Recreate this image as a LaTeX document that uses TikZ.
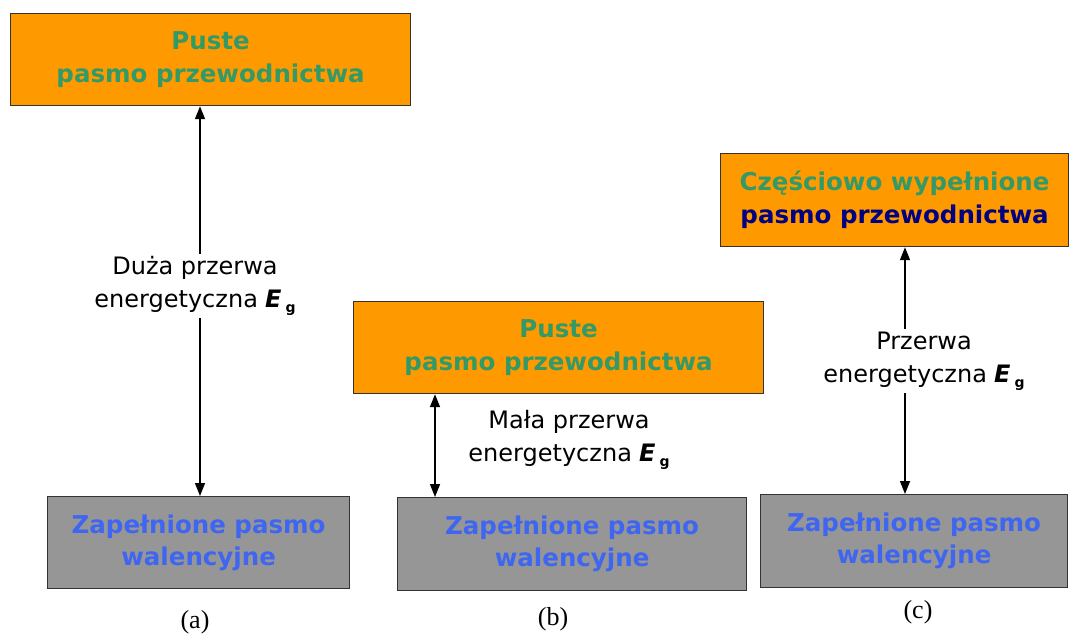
\documentclass[tikz,border=0pt]{standalone}
\usepackage{fontspec}
\setmainfont{DejaVu Sans}
\newfontfamily\capfont{Liberation Serif}
\usetikzlibrary{arrows.meta}
\definecolor{bandorange}{HTML}{FF9900}
\definecolor{bandgray}{HTML}{969696}
\definecolor{bandgreen}{HTML}{339966}
\definecolor{bandblue}{HTML}{3F66F0}
\definecolor{bandnavy}{HTML}{000080}
\definecolor{edgegray}{HTML}{333333}
\newcommand\Eg{\hspace{0.3em}\textbf{\textit{E}}\,\raisebox{-0.35ex}{\fontsize{14}{14}\selectfont\bfseries g}}
\tikzset{
  cband/.style={draw=edgegray, line width=1.2pt, fill=bandorange, anchor=north west,
    inner sep=0pt, align=center, text=bandgreen,
    font=\fontsize{24.5}{33}\selectfont\bfseries},
  vband/.style={draw=edgegray, line width=1.2pt, fill=bandgray, anchor=north west,
    inner sep=0pt, align=center, text=bandblue,
    font=\fontsize{24.5}{32}\selectfont\bfseries},
  gaplabel/.style={fill=white, inner sep=3pt, align=center,
    font=\fontsize{24}{33}\selectfont},
  caplabel/.style={font=\capfont\fontsize{26}{26}\selectfont},
  gaparrow/.style={line width=1.4pt, {Triangle[length=13pt,width=10pt]}-{Triangle[length=13pt,width=10pt]}}
}
\begin{document}
\begin{tikzpicture}[x=1pt,y=-1pt]
\useasboundingbox (0,0) rectangle (1069,633);
% (a)
\node[cband, minimum width=400pt, minimum height=92pt] (ta) at (10,13) {Puste\\pasmo przewodnictwa};
\node[vband, minimum width=302pt, minimum height=92pt] (ba) at (47,496) {Zapełnione pasmo\\walencyjne};
\coordinate (xa) at (200,0);
\draw[gaparrow] (ta.south -| xa) -- (ba.north -| xa);
\node[gaplabel] (la) at (195,286) {Duża przerwa\\energetyczna\Eg};
\node[caplabel] (ca) at (195,622) {(a)};
% (b)
\node[cband, minimum width=410pt, minimum height=92pt] (tb) at (353,301) {Puste\\pasmo przewodnictwa};
\node[vband, minimum width=349pt, minimum height=93pt] (bb) at (397,497) {Zapełnione pasmo\\walencyjne};
\coordinate (xb) at (435,0);
\draw[gaparrow] (tb.south -| xb) -- (bb.north -| xb);
\node[gaplabel] (lb) at (569,440) {Mała przerwa\\energetyczna\Eg};
\node[caplabel] (cb) at (553,619) {(b)};
% (c)
\node[cband, minimum width=348pt, minimum height=93pt] (tc) at (720,153) {Częściowo wypełnione\\\textcolor{bandnavy}{pasmo przewodnictwa}};
\node[vband, minimum width=307pt, minimum height=93pt] (bc) at (760,494) {Zapełnione pasmo\\walencyjne};
\coordinate (xc) at (905,0);
\draw[gaparrow] (tc.south -| xc) -- (bc.north -| xc);
\node[gaplabel] (lc) at (924,361) {Przerwa\\energetyczna\Eg};
\node[caplabel] (cc) at (918,612) {(c)};
\end{tikzpicture}
\end{document}
